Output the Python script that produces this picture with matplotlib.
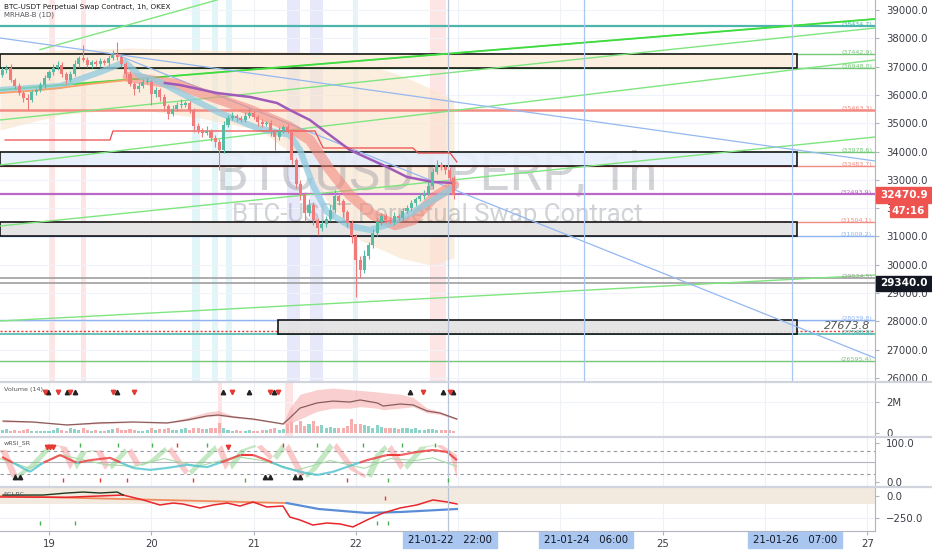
import matplotlib
matplotlib.use("Agg")
import matplotlib.pyplot as plt
import matplotlib.transforms as mtrans
from matplotlib.patches import Rectangle
from matplotlib.lines import Line2D
from matplotlib.collections import LineCollection
import numpy as np

# ---------------- data (x in hours from 2021-01-19 00:00) ----------------
first_hour = -11
open0 = 36700
closes = [36880, 36950, 36530, 36320, 36070, 35890, 35820, 36100, 36170, 36350, 36600,
          36810, 36950, 37060, 36740, 36530, 36740, 37090, 37300, 37230, 37060,
          37160, 37090, 37200, 37130, 37300, 37450, 37340, 37090, 36740, 36390,
          36210, 36320, 36460, 36460, 36030, 36170, 35930, 35610, 35330, 35500,
          35640, 35640, 35710, 35470, 34900, 34760, 34660, 34730, 34480, 34340,
          34060, 34940, 35190, 35260, 35190, 35120, 35260, 35360, 35220, 35040,
          34970, 35010, 34690, 34510, 34730, 34870, 34730, 33700, 32850, 32500,
          31830, 32110, 31580, 31300, 31440, 31620, 31940, 32430, 32250, 31870,
          31480, 31020, 30170, 29820, 30310, 30700, 31120, 31510, 31720, 31580,
          31510, 31720, 31650, 31900, 32010, 32180, 32330, 32430, 32540, 32780,
          33280, 33520, 33450, 33350, 33070, 32470.9]
wick_up = [120, 90, 150, 80, 110, 60, 140, 90, 70, 120, 100,
           80, 130, 150, 90, 60, 110, 140, 90, 455, 120,
           90, 60, 110, 80, 120, 150, 424, 90, 70, 110,
           60, 130, 90, 150, 80, 120, 70, 90, 60, 140,
           110, 200, 90, 60, 80, 110, 70, 160, 60, 90,
           100, 140, 90, 120, 70, 60, 130, 180, 90, 70,
           110, 60, 90, 70, 120, 80, 110, 60, 90, 140,
           60, 200, 120, 90, 140, 110, 160, 220, 120, 90,
           70, 110, 80, 150, 200, 120, 160, 140, 100, 90,
           120, 150, 80, 110, 90, 120, 70, 100, 90, 130,
           150, 180, 120, 90, 110, 80]
wick_dn = [80, 100, 60, 120, 90, 150, 350, 80, 110, 60, 90,
           70, 100, 60, 120, 150, 80, 60, 100, 80, 90,
           110, 70, 90, 60, 110, 70, 90, 120, 150, 80,
           200, 90, 70, 60, 390, 100, 130, 160, 180, 90,
           70, 90, 60, 110, 200, 90, 150, 80, 120, 180,
           700, 100, 70, 80, 110, 90, 60, 90, 70, 120,
           90, 80, 140, 450, 90, 60, 70, 150, 120, 200,
           280, 110, 160, 250, 110, 90, 80, 100, 150, 180,
           160, 250, 1310, 300, 120, 90, 110, 90, 120, 110,
           80, 100, 120, 90, 80, 100, 90, 60, 120, 80,
           100, 90, 110, 140, 160, 140]
volumes = [0.18, 0.25, 0.15, 0.2, 0.12, 0.22, 0.28, 0.15, 0.1, 0.12, 0.15,
           0.14, 0.2, 0.3, 0.18, 0.15, 0.35, 0.25, 0.2, 0.3, 0.22,
           0.15, 0.18, 0.12, 0.15, 0.2, 0.25, 0.3, 0.18, 0.22, 0.25,
           0.2, 0.15, 0.12, 0.18, 0.3, 0.22, 0.25, 0.28, 0.35, 0.2,
           0.18, 0.25, 0.3, 0.22, 0.35, 0.3, 0.28, 0.25, 0.3, 0.32,
           0.65, 0.3, 0.2, 0.15, 0.18, 0.12, 0.15, 0.2, 0.15, 0.12,
           0.18, 0.2, 0.25, 0.3, 0.22, 0.25, 0.55, 0.7, 0.5, 0.8,
           0.45, 0.55, 0.75, 0.45, 0.5, 0.35, 0.4, 0.3, 0.35, 0.3,
           0.45, 0.9, 0.6, 0.55, 0.5, 0.45, 0.35, 0.5, 0.4, 0.3,
           0.3, 0.35, 0.25, 0.3, 0.35, 0.25, 0.3, 0.2, 0.22, 0.25,
           0.25, 0.2, 0.18, 0.22, 0.2, 0.15]

price_ticks = [26000, 27000, 28000, 29000, 30000, 31000, 32000, 33000,
               34000, 35000, 36000, 37000, 38000, 39000]
# the 32000 label is mostly hidden behind the countdown tag: only its first digit shows
price_tick_labels = ["26000.0", "27000.0", "28000.0", "29000.0", "30000.0", "31000.0", "3",
                     "33000.0", "34000.0", "35000.0", "36000.0", "37000.0", "38000.0", "39000.0"]
last_price = 32470.9
countdown = "47:16"
marked_price = 29340.0

levels = [38434.7, 37442.9, 36948.0, 35463.3, 33978.6, 33483.7, 32493.9,
          31504.1, 31009.2, 29524.5, 29340.0, 28039.8, 27673.8, 27548.9, 26595.4]
level_tags = ["(38434.7)", "(37442.9)", "(36948.0)", "(35463.3)", "(33978.6)",
              "(33483.7)", "(32493.9)", "(31504.1)", "(31009.2)", "(29524.5)", "",
              "(28039.8)", "", "(27548.9)", "(26595.4)"]
box_tops = [37442.9, 33978.6, 31504.1, 28039.8]
box_bottoms = [36948.0, 33483.7, 31009.2, 27548.9]
box_start = [-11.5, -11.5, -11.5, 53.7]
box_end = 175.5

# trend lines: (h0, p0, h1, p1)
trend_green = [(-11.5, 36174, 193.8, 38682), (-11.5, 35115, 193.8, 38364),
               (-11.5, 33525, 193.8, 37234), (-11.5, 31371, 193.8, 34514),
               (-11.5, 28016, 193.8, 29640), (-2.1, 37600, 39.4, 39353)]
trend_blue = [(-11.5, 38011, 193.8, 33667), (16.0, 37411, 193.8, 26709)]
vlines_blue = [125.6, 174.4]
cursor_h = 93.6

# overlays on price
orange_h = [-11.5, -4.5, 2.6, 9.6, 18.5]
orange_p = [36069, 36139, 36245, 36386, 36528]
salmon_h = [18.5, 29.6, 47.2, 56.5, 61.2, 65.9, 70.6, 76.0, 81.2, 85.4, 90.1, 95.0]
salmon_p = [36634, 36386, 35468, 34868, 34408, 33349, 32466, 31760, 31406, 31583, 32360, 32819]
teal_h = [-11.5, 2.6, 12.0, 17.8, 21.4, 26.0, 33.1, 40.1, 48.8, 56.5, 58.9, 61.9,
          65.2, 70.6, 75.3, 80.0, 85.4, 91.7, 95.0]
teal_p = [36174, 36316, 36810, 37163, 36669, 36457, 35892, 35362, 34832, 34585, 34055,
          32819, 31865, 31371, 31230, 31442, 31865, 32430, 32748]
purple_h = [27.2, 30.7, 39.4, 47.2, 53.5, 56.5, 61.2, 64.3, 70.6, 79.3, 84.0, 90.1, 95.0]
purple_p = [36422, 36351, 36068, 35927, 35715, 35468, 35115, 34762, 34055, 33455, 33102, 32925, 32890]
step_h = [-10.3, 14.3, 15.0, 62.4, 64.3, 85.4, 86.6, 94.1, 95.7]
step_p = [34408, 34408, 34726, 34726, 34126, 34126, 33949, 33949, 33631]
cloud_h = [-11.5, 2.6, 19.0, 35.4, 49.5, 58.9, 65.9, 73.0, 82.4, 89.4, 95.0]
cloud_top = [37375, 37587, 37658, 37587, 37552, 37517, 37411, 37163, 36704, 36245, 35821]
cloud_bot = [34762, 35291, 35539, 35185, 34762, 33702, 32113, 30876, 30241, 29993, 30241]

stripes_pink = [(0.2, 1.4), (7.5, 8.7), (89.4, 93.1)]
stripes_cyan = [(33.6, 35.4), (38.2, 39.7), (41.5, 42.9), (71.3, 72.5)]
stripes_lav = [(55.8, 58.9), (61.2, 64.3)]
vol_stripes = [(39.7, 40.6), (55.4, 57.3)]

# volume MA
vma_h = [-10.8, -3.8, 4.2, 12, 19.7, 27.7, 32.4, 37.1, 39.7, 43.2, 47.9, 53.5, 54.9,
         56.5, 58.9, 62.9, 66.6, 70.6, 73.0, 77.0, 78.4, 82.4, 85.4, 88.7, 91.7, 95.7]
vma = [0.77, 0.71, 0.52, 0.65, 0.71, 0.65, 0.84, 1.10, 1.16, 1.03, 0.90, 0.65, 0.58,
       0.97, 1.61, 1.94, 2.06, 2.0, 2.13, 1.94, 1.74, 1.87, 1.81, 1.42, 1.29, 0.90]
vma_hi = [0.85, 0.75, 0.55, 0.75, 0.72, 0.68, 1.0, 1.35, 1.45, 1.12, 0.95, 0.68, 0.62,
          1.6, 2.5, 2.8, 2.9, 2.8, 2.75, 2.65, 2.6, 2.5, 2.3, 1.6, 1.4, 0.95]
vma_lo = [0.70, 0.68, 0.50, 0.60, 0.68, 0.62, 0.80, 1.05, 1.12, 0.98, 0.85, 0.62, 0.56,
          0.6, 0.9, 1.4, 1.6, 1.6, 1.7, 1.6, 1.5, 1.6, 1.7, 1.3, 1.2, 0.85]
vol_up_h = [-0.2, 4.2, 6.1, 16, 40.8, 46.9, 52.8, 84.7, 92.4, 94.8]
vol_dn_h = [-0.9, 2.1, 4.9, 15, 19.9, 42.9, 51.9, 53.7, 87.8, 94.1]

# wRSI
rsi_h = [-11, -8.4, -4.5, -1.4, 2.6, 6.6, 9.6, 14.3, 19.7, 23.7, 27.7, 32.4, 37.1, 41.8,
         44.8, 47.9, 51.1, 54.9, 58.9, 62.9, 66.6, 71.3, 74.6, 79.3, 82.4, 86.3, 90.1, 93.4, 95.7]
rsi_v = [64, 49, 26, 49, 69, 49, 56, 62, 36, 31, 36, 44, 38, 56,
         69, 69, 56, 38, 26, 18, 26, 44, 56, 69, 69, 77, 82, 77, 56]
fast_h = [-11.5, -8.7, -4.5, -0.2, 2.6, 4.9, 7.3, 10.8, 13.1, 17.8, 20.2, 23.7, 27.2, 31.9,
          35.4, 39, 41.3, 44.8, 48.3, 51.9, 54.7, 58.9, 61.2, 65.9, 70.6, 74.1, 76.5, 78.8,
          82.4, 87, 90.6, 94.1, 95.7]
fast_v = [82, 10, 44, 95, 90, 31, 77, 82, 31, 87, 41, 56, 90, 18,
          56, 95, 31, 82, 95, 56, 98, 10, 31, 100, 31, 10, 69, 95,
          31, 90, 95, 69, 10]
mid_h = [-11.5, -4.5, 2.6, 13, 20, 27, 35, 44, 50, 58, 66, 74, 80, 86, 90, 95.7]
mid_v = [60, 35, 70, 45, 40, 60, 40, 65, 55, 30, 55, 35, 60, 55, 62, 40]
rsi_tri_up = [-8, -6.8, 50.7, 51.9, 57.7, 58.9]
rsi_tri_dn = [-0.5, 0.2, 0.9, 42]
rsi_tick_top_g = [7.3, 16.2, 24.2, 37.1, 62.9, 73.7, 82.8, 90.6]
rsi_tick_top_r = [30, 54.9]
rsi_tick_bot_r = [3.3, 12, 18.3, 33.8, 69.9]
rsi_tick_bot_g = [46, 79.5, 93.6]

# SCI-RC
dark_h = [-10.8, -1.4, 4.2, 8, 12, 16, 17.4]
dark_v = [11, 11, 34, 45, 34, 45, 11]
red_h = [-11.5, 4, 17.4, 22.1, 26, 29.1, 31.4, 35.4, 38.5, 41.8, 44.8, 47.9, 51.1, 54.9,
         56.5, 58.9, 61.9, 65.2, 68.3, 71.3, 74.6, 78.4, 82.4, 86.3, 90.1, 93.4, 95.7]
red_v = [-11, -15, 11, -45, -102, -80, -91, -136, -102, -80, -114, -68, -125, -114,
         -239, -273, -330, -307, -318, -352, -273, -193, -136, -102, -45, -68, -91]
slow_h = [-11.5, 55.8]
slow_v = [0, -80]
blue_h = [55.8, 63.3, 74.6, 82.4, 95.7]
blue_v = [-80, -148, -193, -182, -148]
sci_tick_r = [78.8]
sci_tick_g = [-2.1, 6.1, 77, 79.5]

day_ticks = [0, 24, 48, 72, 144, 192]
day_labels = ["19", "20", "21", "22", "25", "27"]
date_box_h = [94, 126, 175]
date_box_text = ["21-01-22   22:00", "21-01-24   06:00", "21-01-26   07:00"]

# ---------------- figure ----------------
W, H = 932.0, 550.0
PX = 875.0
XL = (-11.5, 193.8)
AXC = '#3a3d46'
fig = plt.figure(figsize=(9.32, 5.5), dpi=100, facecolor='white')


def make_ax(top, bottom, ylim):
    a = fig.add_axes([0, 1 - bottom / H, PX / W, (bottom - top) / H])
    a.set_xlim(*XL)
    a.set_ylim(*ylim)
    for k, s in a.spines.items():
        s.set_visible(k == 'right')
    a.spines['right'].set_color('#B2B5BE')
    a.set_xticks([])
    a.yaxis.tick_right()
    a.tick_params(axis='y', length=3, width=0.8, color='#B2B5BE', pad=5,
                  labelsize=7.3, labelcolor=AXC)
    for d in range(0, 200, 24):
        a.axvline(d, color='#EEF1F6', lw=0.8, zorder=0.2)
    return a


ax = make_ax(0, 381, (25896, 39353))
axv = make_ax(383, 436, (-0.194, 3.226))
axr = make_ax(438, 486, (-10.3, 112.8))
axs = make_ax(488, 531, (-398, 91))

# ---- main pane ----
ax.set_yticks(price_ticks, price_tick_labels)
for v in price_ticks:
    ax.axhline(v, color='#F0F3FA', lw=0.8, zorder=0.2)
for (a0, a1) in stripes_pink:
    ax.axvspan(a0, a1, color='#FDE5E5', lw=0, zorder=0.1)
for (a0, a1) in stripes_cyan:
    ax.axvspan(a0, a1, color='#E2F5F8', lw=0, zorder=0.1)
for (a0, a1) in stripes_lav:
    ax.axvspan(a0, a1, color='#E7E8FA', lw=0, zorder=0.1)

ax.fill_between(cloud_h, cloud_bot, cloud_top, color='#FBE3CB', alpha=0.6, lw=0, zorder=0.4)

ax.text(0.4994, 0.5407, "BTCUSDTPERP, 1h", transform=ax.transAxes, ha='center', va='center',
        fontsize=38, family='Roboto', color='#8E9199', alpha=0.4, zorder=0.6)
ax.text(0.4994, 0.4357, "BTC-USDT Perpetual Swap Contract", transform=ax.transAxes, ha='center',
        va='center', fontsize=18.5, family='Roboto', color='#8E9199', alpha=0.4, zorder=0.6)

lvl_colors = ['#4DB6AC', '#77C77A', '#77C77A', '#F28B82', '#77C77A', '#F28B82', '#BA68C8',
              '#F28B82', '#90B4F0', '#A0A0A0', '#A0A0A0', '#90B4F0', '#E53935', '#4DB6AC', '#77C77A']
lvl_lw = [1.6, 1.0, 1.0, 1.8, 1.0, 1.0, 1.6, 1.0, 1.0, 1.2, 1.2, 1.0, 1.0, 1.2, 1.0]
for v, c, lw, tag in zip(levels, lvl_colors, lvl_lw, level_tags):
    ls = (0, (1.5, 1.5)) if v == 27673.8 else '-'
    ax.axhline(v, color=c, lw=lw, ls=ls, zorder=1)
    if tag:
        ax.text(0.9966, v - 40, tag, transform=ax.get_yaxis_transform(), ha='right', va='bottom',
                fontsize=4.6, color=c, zorder=6)
ax.text(0.9943, 27673.8, "27673.8", transform=ax.get_yaxis_transform(), ha='right', va='bottom',
        fontsize=8, style='italic', color='#555555', zorder=6)

box_fc = ['#FDEEDC', '#E6EFFB', '#E3E3E3', '#E3E3E3']
for t, b, s, fc in zip(box_tops, box_bottoms, box_start, box_fc):
    ax.add_patch(Rectangle((s, b), box_end - s, t - b, facecolor=fc, edgecolor='black',
                           lw=1.2, alpha=0.9, zorder=1.5))

for (h0, p0, h1, p1) in trend_green:
    ax.plot([h0, h1], [p0, p1], color='#7FE57F', lw=1.0, zorder=2)
ax.plot([trend_green[0][0], trend_green[0][2]], [trend_green[0][1], trend_green[0][3]],
        color='#3FDC3F', lw=1.3, zorder=2)
for (h0, p0, h1, p1) in trend_blue:
    ax.plot([h0, h1], [p0, p1], color='#94B8F0', lw=0.9, zorder=2)
for v in vlines_blue:
    ax.axvline(v, color='#A9C5F2', lw=0.9, zorder=2)

ax.plot(teal_h, teal_p, color='#8FCBE0', lw=4.5, alpha=0.75, solid_capstyle='round', zorder=2.4)
ax.plot(orange_h, orange_p, color='#F6A26B', lw=1.3, zorder=2.4)
ax.plot(salmon_h, salmon_p, color='#F4897E', lw=7.5, alpha=0.6, solid_capstyle='round', zorder=2.3)
ax.plot(purple_h, purple_p, color='#A05AB8', lw=1.8, zorder=2.5)
ax.plot(step_h, step_p, color='#EE4B4B', lw=0.9, zorder=2.6)

hours = np.arange(len(closes)) + first_hour
opens = [open0] + closes[:-1]
up_c, dn_c = '#58BBA6', '#F07B7B'
for h, o, c, wu, wd in zip(hours, opens, closes, wick_up, wick_dn):
    col = up_c if c >= o else dn_c
    ax.vlines(h, min(o, c) - wd, max(o, c) + wu, color=col, lw=0.8, zorder=3)
    body = max(abs(c - o), 25)
    ax.bar(h, body, width=0.72, bottom=min(o, c), color=col, lw=0, zorder=3.1)

for a in (ax, axv, axr, axs):
    a.axvline(cursor_h, color='#B7C3D6', lw=0.9, zorder=2.2)

# price tags
trf = mtrans.blended_transform_factory(fig.transFigure, ax.transData)
dh = 8 * 35.32
ax.add_patch(Rectangle((876 / W, last_price - dh), 56 / W, 2 * dh, transform=trf,
                       color='#EF5350', clip_on=False, zorder=10))
ax.text(904 / W, last_price, f"{last_price:.1f}", transform=trf, ha='center', va='center',
        fontsize=7.5, color='white', fontweight='bold', zorder=11, clip_on=False)
cd_p = last_price - 16 * 35.32
ax.add_patch(Rectangle((890 / W, cd_p - 6.5 * 35.32), 37 / W, 13 * 35.32, transform=trf,
                       color='#EF5350', clip_on=False, zorder=10))
ax.text(908.5 / W, cd_p, countdown, transform=trf, ha='center', va='center',
        fontsize=7.5, color='white', fontweight='bold', zorder=11, clip_on=False)
ax.add_patch(Rectangle((876 / W, marked_price - 7.5 * 35.32), 56 / W, 15 * 35.32, transform=trf,
                       color='#131722', clip_on=False, zorder=10))
ax.text(904 / W, marked_price, f"{marked_price:.1f}", transform=trf, ha='center', va='center',
        fontsize=7.5, color='white', fontweight='bold', zorder=11, clip_on=False)

fig.text(4 / W, 1 - 7 / H, "BTC-USDT Perpetual Swap Contract, 1h, OKEX", fontsize=5.2,
         color='#1a1a1a', va='center', ha='left')
fig.text(4 / W, 1 - 15 / H, "MRHAB-B (1D)", fontsize=5, color='#555555', va='center', ha='left')

# ---- volume pane ----
axv.set_yticks([0, 2], ["0", "2M"])
axv.axhline(2, color='#F0F3FA', lw=0.8, zorder=0.2)
for (a0, a1) in vol_stripes:
    axv.axvspan(a0, a1, color='#FDE3E3', lw=0, zorder=0.1)
vcols = ['#8ED3C7' if c >= o else '#F6AFAF' for o, c in zip(opens, closes)]
axv.bar(hours, volumes, width=0.72, color=vcols, lw=0, zorder=2)
axv.fill_between(vma_h, vma_lo, vma_hi, color='#F8AFAF', alpha=0.6, lw=0, zorder=1.5)
axv.plot(vma_h, vma, color='#8A5C5C', lw=0.9, zorder=2.5)
axv.plot(vol_up_h, [2.65] * len(vol_up_h), ls='none', marker='^', ms=3.2, color='#222222', zorder=3)
axv.plot(vol_dn_h, [2.65] * len(vol_dn_h), ls='none', marker='v', ms=3.2, color='#E53935', zorder=3)
fig.text(4 / W, 1 - 389 / H, "Volume (14)", fontsize=4.6, color='#555555', va='center')

# ---- wRSI pane ----
axr.set_yticks([0, 100], ["0.0", "100.0"])
axr.axhline(80, color='#9598A1', lw=0.8, ls=(0, (3, 3)), zorder=0.5)
axr.axhline(20, color='#9598A1', lw=0.8, ls=(0, (3, 3)), zorder=0.5)
axr.axhline(50, color='#B2B5BE', lw=0.8, zorder=0.5)
g = np.linspace(fast_h[0], fast_h[-1], 900)
f1 = np.interp(g, fast_h, fast_v)
f2 = np.interp(g - 1.6, fast_h, fast_v)
axr.fill_between(g, f1, f2, where=f1 >= f2, interpolate=True, color='#7CCB7C', alpha=0.45, lw=0, zorder=1)
axr.fill_between(g, f1, f2, where=f1 < f2, interpolate=True, color='#F48A8A', alpha=0.45, lw=0, zorder=1)
axr.plot(mid_h, mid_v, color='#A8DCA8', lw=0.8, zorder=1.5)
gr = np.linspace(rsi_h[0], rsi_h[-1], 600)
rv = np.interp(gr, rsi_h, rsi_v)
segs = np.stack([np.column_stack([gr[:-1], rv[:-1]]), np.column_stack([gr[1:], rv[1:]])], axis=1)
cols = ['#EE3B3B' if (a + b) / 2 >= 50 else '#4FC3D0' for a, b in zip(rv[:-1], rv[1:])]
axr.add_collection(LineCollection(segs, colors=cols, linewidths=1.5, zorder=2))
axr.plot(rsi_tri_up, [13] * len(rsi_tri_up), ls='none', marker='^', ms=3.2, color='#222222', zorder=3)
axr.plot(rsi_tri_dn, [90] * len(rsi_tri_dn), ls='none', marker='v', ms=3.2, color='#E53935', zorder=3)
axr.plot(rsi_tick_top_g, [95] * len(rsi_tick_top_g), ls='none', marker='|', ms=3, color='#4CAF50', zorder=3)
axr.plot(rsi_tick_top_r, [95] * len(rsi_tick_top_r), ls='none', marker='|', ms=3, color='#E53935', zorder=3)
axr.plot(rsi_tick_bot_r, [5] * len(rsi_tick_bot_r), ls='none', marker='|', ms=3, color='#E53935', zorder=3)
axr.plot(rsi_tick_bot_g, [5] * len(rsi_tick_bot_g), ls='none', marker='|', ms=3, color='#4CAF50', zorder=3)
fig.text(4 / W, 1 - 443 / H, "wRSI_SR", fontsize=4.6, color='#555555', va='center')

# ---- SCI pane ----
axs.set_yticks([-250, 0], ["\u2212250.0", "0.0"])
axs.axhspan(-91, 91, color='#F3EADF', lw=0, zorder=0.3)
axs.axhline(-250, color='#F0F3FA', lw=0.8, zorder=0.2)
axs.plot(slow_h, slow_v, color='#F08A5D', lw=1.3, zorder=1.5)
axs.plot(blue_h, blue_v, color='#5B8DD6', lw=1.6, zorder=1.5)
axs.plot(red_h, red_v, color='#E8262B', lw=1.1, zorder=2)
axs.plot(dark_h, dark_v, color='#1E3A1E', lw=1.0, zorder=2.1)
axs.plot(sci_tick_r, [-20], ls='none', marker='|', ms=3, color='#E53935', zorder=3)
axs.plot(sci_tick_g, [-307] * len(sci_tick_g), ls='none', marker='|', ms=3, color='#4CAF50', zorder=3)
fig.text(4 / W, 1 - 495 / H, "SCI-RC", fontsize=4.6, color='#555555', va='center')

axs.spines['bottom'].set_visible(True)
axs.spines['bottom'].set_color('#B2B5BE')
axs.set_xticks(day_ticks, day_labels)
axs.tick_params(axis='x', length=3, width=0.8, color='#B2B5BE', pad=3, labelsize=7.3, labelcolor=AXC)

trx = mtrans.blended_transform_factory(axs.transData, fig.transFigure)
for h, t in zip(date_box_h, date_box_text):
    axs.add_patch(Rectangle((h - 11.0, 1 - 548 / H), 22.0, 16 / H, transform=trx,
                            color='#A9C6F0', clip_on=False, zorder=10))
    axs.text(h, 1 - 540 / H, t, transform=trx, ha='center', va='center', fontsize=7.3,
             color='#131722', zorder=11, clip_on=False)

for yy in (382, 437, 487):
    fig.add_artist(Line2D([0, 1], [1 - yy / H] * 2, color='#D1D4DC', lw=1.6, zorder=20))

fig.savefig("out.png", dpi=100, facecolor='white')
